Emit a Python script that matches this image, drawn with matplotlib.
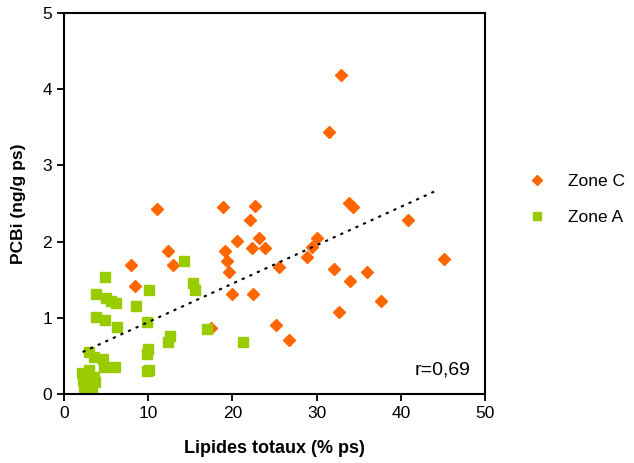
import numpy as np
import matplotlib
matplotlib.use("Agg")
import matplotlib.pyplot as plt

plt.rcParams['font.family'] = ['Liberation Sans', 'DejaVu Sans']

# Zone C (orange diamonds)
zone_c_x = [32.9, 31.5, 11.1, 18.9, 22.7, 22.1, 33.9, 34.3, 40.9, 20.5, 23.1, 22.3,
            23.9, 19.1, 12.4, 30.0, 29.5, 28.8, 19.4, 8.0, 13.0, 19.6, 25.5, 32.1,
            36.0, 45.1, 8.4, 34.0, 20.0, 22.5, 37.6, 32.7, 25.2, 26.7, 17.4]
zone_c_y = [4.18, 3.44, 2.43, 2.45, 2.47, 2.28, 2.51, 2.46, 2.28, 2.01, 2.05, 1.92,
            1.92, 1.88, 1.88, 2.05, 1.93, 1.80, 1.75, 1.69, 1.69, 1.60, 1.67, 1.64,
            1.60, 1.77, 1.42, 1.48, 1.31, 1.31, 1.22, 1.07, 0.91, 0.71, 0.87]

# Zone A (green squares)
zone_a_x = [14.2, 4.9, 10.1, 15.3, 15.5, 3.8, 5.0, 5.6, 6.2, 8.6, 3.8, 4.9, 6.3,
            9.8, 17.0, 12.6, 12.4, 21.2, 10.0, 9.8, 3.0, 3.5, 4.6, 4.7, 6.1, 10.1,
            9.9, 2.1, 2.6, 3.0, 3.5, 2.9, 2.4, 3.3, 2.8, 3.7, 2.2]
zone_a_y = [1.75, 1.54, 1.37, 1.46, 1.37, 1.31, 1.26, 1.22, 1.20, 1.16, 1.01, 0.97, 0.88,
            0.95, 0.85, 0.76, 0.68, 0.68, 0.59, 0.53, 0.55, 0.49, 0.46, 0.36, 0.36, 0.32,
            0.30, 0.28, 0.22, 0.31, 0.22, 0.14, 0.09, 0.07, 0.05, 0.16, 0.18]

# linear trend
trend_x = [2.2, 44.5]
trend_slope = 0.0504
trend_intercept = 0.44

fig = plt.figure(figsize=(6.34, 4.63), dpi=100)
ax = fig.add_axes([0.101, 0.149, 0.664, 0.823])

ax.plot(zone_c_x, zone_c_y, 'D', color='#FF6600', markersize=6.2, linestyle='none', label='Zone C')
ax.plot(zone_a_x, zone_a_y, 's', color='#99CC00', markersize=6.6, linestyle='none', label='Zone A')

tx = np.array(trend_x)
ax.plot(tx, trend_slope * tx + trend_intercept, color='black', linewidth=1.5,
        linestyle=(0, (1.5, 2.5)))

ax.set_xlim(0, 50)
ax.set_ylim(0, 5)
ax.set_xticks([0, 10, 20, 30, 40, 50])
ax.set_yticks([0, 1, 2, 3, 4, 5])
ax.tick_params(direction='out', length=5, width=1.3, labelsize=12.5, top=False, right=False)
for s in ax.spines.values():
    s.set_linewidth(1.5)

ax.set_xlabel('Lipides totaux (% ps)', fontsize=13, fontweight='bold', labelpad=14)
ax.set_ylabel('PCBi (ng/g ps)', fontsize=12.5, fontweight='bold', labelpad=12)

ax.text(0.965, 0.04, 'r=0,69', transform=ax.transAxes, ha='right', va='bottom', fontsize=14)

ax.legend(loc='center left', bbox_to_anchor=(1.065, 0.51), frameon=False, fontsize=12.5,
          handletextpad=1.3, labelspacing=1.2, handlelength=1.0, markerscale=0.9)

fig.savefig('out.png', dpi=100)
